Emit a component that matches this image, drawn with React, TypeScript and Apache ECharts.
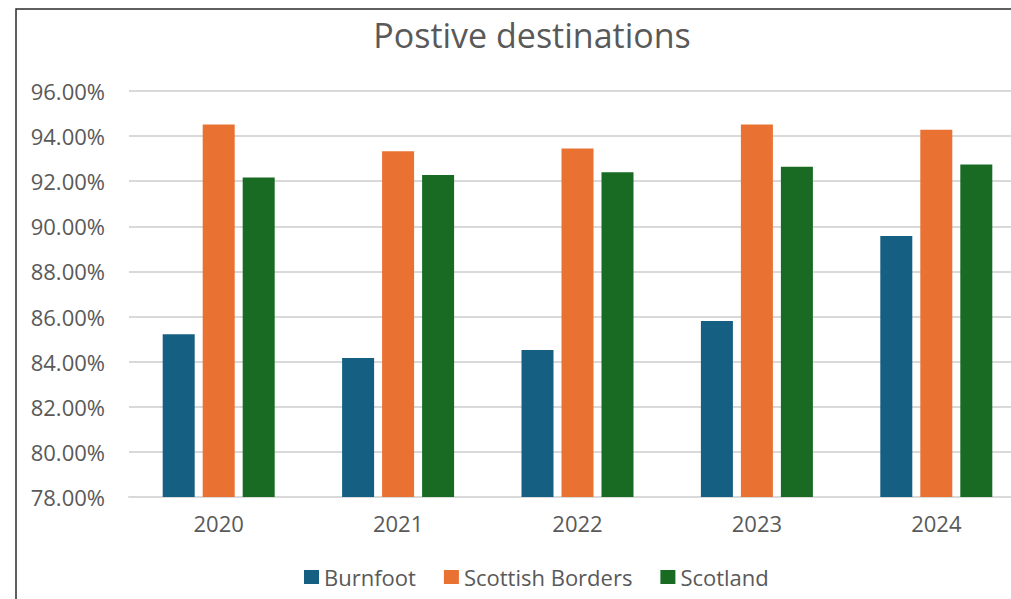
import React, { useEffect, useRef } from "react";
import * as echarts from "echarts";

const years = ["2020", "2021", "2022", "2023", "2024"];
const burnfoot = [85.21, 84.16, 84.52, 85.8, 89.57];
const scottishBorders = [94.52, 93.33, 93.45, 94.52, 94.28];
const scotland = [92.16, 92.28, 92.4, 92.64, 92.74];
const seriesNames = ["Burnfoot", "Scottish Borders", "Scotland"];
const colors = ["#156082", "#E97132", "#196B24"];
const titleText = "Postive destinations";

const FONT = "'Open Sans', 'Liberation Sans', sans-serif";
const TEXT = "#595959";

export default function App() {
  const ref = useRef<HTMLDivElement>(null);
  useEffect(() => {
    document.body.style.margin = "0";
    document.body.style.overflow = "hidden";
    if (!ref.current) return;
    const chart = echarts.init(ref.current, null, { renderer: "svg" });
    const data = [burnfoot, scottishBorders, scotland];
    chart.setOption({
      animation: false,
      backgroundColor: "#ffffff",
      textStyle: { fontFamily: FONT },
      graphic: [
        {
          type: "polyline",
          shape: { points: [[16, 600], [16, 9], [1040, 9]] },
          style: { stroke: "#2b2b2b", lineWidth: 1.5, fill: null },
          z: 100,
        },
        {
          type: "text",
          x: 532,
          y: 35,
          style: {
            text: titleText,
            fill: TEXT,
            font: `34px ${FONT}`,
            align: "center",
            verticalAlign: "middle",
          },
        },
      ],
      legend: {
        left: 299,
        top: 561,
        itemWidth: 15,
        itemHeight: 14,
        itemGap: 28,
        icon: "rect",
        textStyle: { color: TEXT, fontSize: 22, fontFamily: FONT },
        data: seriesNames,
      },
      grid: { left: 129, right: 0, top: 91, bottom: 102, containLabel: false },
      xAxis: {
        type: "category",
        data: years,
        axisLine: { lineStyle: { color: "#d9d9d9", width: 2 } },
        axisTick: { show: false },
        axisLabel: { color: TEXT, fontSize: 22, margin: 15, fontFamily: FONT },
      },
      yAxis: {
        type: "value",
        min: 78,
        max: 96,
        interval: 2,
        axisLine: { show: false },
        axisTick: { show: false },
        splitLine: { lineStyle: { color: "#d9d9d9", width: 2 } },
        axisLabel: {
          color: TEXT,
          fontSize: 22,
          margin: 24,
          fontFamily: FONT,
          formatter: (v: number) => v.toFixed(2) + "%",
        },
      },
      series: seriesNames.map((name, i) => ({
        name,
        type: "bar",
        data: data[i],
        barWidth: 32,
        barGap: "25%",
        itemStyle: { color: colors[i] },
      })),
    });
    return () => chart.dispose();
  }, []);
  return (
    <div style={{ width: 1011, height: 599, overflow: "hidden", position: "relative" }}>
      <div ref={ref} style={{ width: 1026, height: 599 }} />
    </div>
  );
}
